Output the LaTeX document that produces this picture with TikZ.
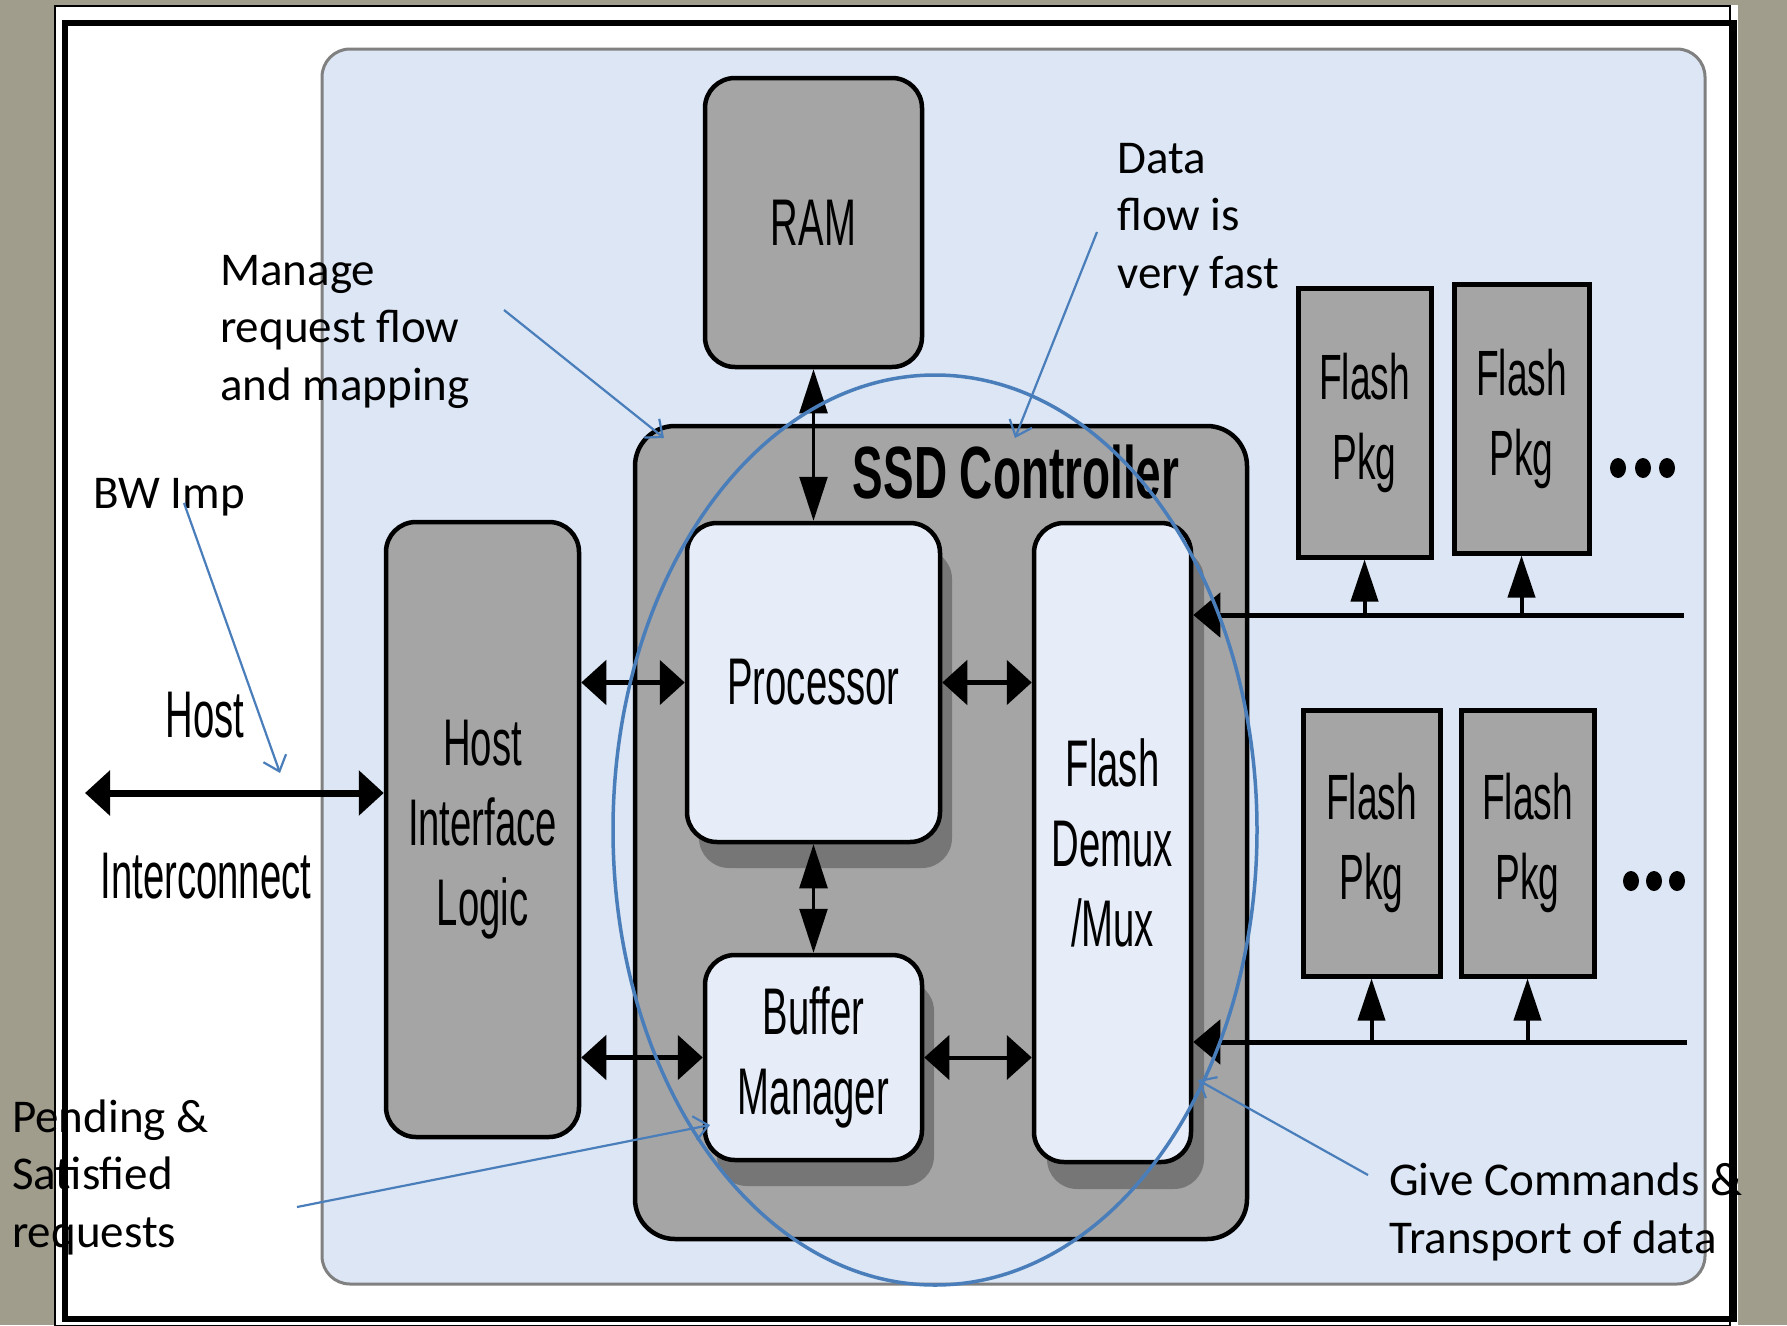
\documentclass[tikz,border=0pt]{standalone}
\usepackage{fontspec}
\setmainfont{Carlito}
\newfontfamily\narrowfont[FakeStretch=0.58]{Liberation Sans}
\newfontfamily\ctrlfont[FakeStretch=0.62]{Liberation Sans}
\usetikzlibrary{arrows.meta}
\definecolor{slidebg}{RGB}{160,157,141}
\definecolor{panelblue}{RGB}{220,230,244}
\definecolor{boxgray}{RGB}{165,165,165}
\definecolor{lightfill}{RGB}{231,237,248}
\definecolor{shadowgray}{RGB}{118,118,118}
\definecolor{annot}{RGB}{74,126,187}
\tikzset{
  graybox/.style={draw=black, line width=4.5pt, fill=boxgray, rounded corners=30pt, inner sep=0pt,
    font=\narrowfont\fontsize{66}{80}\selectfont, align=center},
  litebox/.style={graybox, fill=lightfill},
  pkgbox/.style={draw=black, line width=5pt, fill=boxgray, inner sep=0pt,
    font=\narrowfont\fontsize{64}{80}\selectfont, align=center},
  dbl/.style={line width=5pt, {Triangle[length=25pt,width=44pt]}-{Triangle[length=25pt,width=44pt]}},
  thindbl/.style={line width=2.5pt, {Triangle[length=44pt,width=28pt]}-{Triangle[length=44pt,width=28pt]}},
  busline/.style={line width=5pt, -{Triangle[length=27pt,width=44pt]}},
  uparrow/.style={line width=4pt, -{Triangle[length=42pt,width=27pt]}},
  pointer/.style={draw=annot, line width=2.2pt, -{Straight Barb[length=14pt,width=24pt]}},
  note/.style={font=\fontsize{47}{57.5}\selectfont, align=left, inner sep=0pt, anchor=base west},
  plainlabel/.style={font=\narrowfont\fontsize{66}{80}\selectfont, inner sep=0pt, anchor=base},
}
\begin{document}
\begin{tikzpicture}[x=1pt,y=-1pt]
\useasboundingbox (0,0) rectangle (1787,1325);
% slide background and frames
\fill[slidebg] (0,0) rectangle (1787,1325);
\fill[white] (55,5) rectangle (1738,1325);
\draw[line width=2pt] (55,6) rectangle (1730,1326);
\draw[line width=6pt] (65,23) rectangle (1734,1319);
% blue panel
\draw[fill=panelblue, draw=gray, line width=3pt, rounded corners=28pt] (322,49) rectangle (1705,1284);
% SSD controller
\node[graybox, rounded corners=40pt, minimum width=612pt, minimum height=813pt] (ssd) at (941,832.5) {};
\node[font=\ctrlfont\bfseries\fontsize{74}{80}\selectfont, inner sep=0pt, anchor=base] (ssdtitle) at (1016,498) {SSD Controller};
% shadows
\fill[shadowgray, rounded corners=30pt] (699,549) rectangle (952,868);
\fill[shadowgray, rounded corners=30pt] (717,981) rectangle (934,1186);
\fill[shadowgray, rounded corners=30pt] (1047,549) rectangle (1204,1189);
% boxes
\node[graybox, minimum width=217pt, minimum height=289pt] (ram) at (813.5,222.5) {RAM};
\node[graybox, minimum width=193pt, minimum height=615pt] (host) at (482.5,829.5) {Host\\Interface\\Logic};
\node[litebox, minimum width=253pt, minimum height=319pt] (proc) at (813.5,682.5) {Processor};
\node[litebox, minimum width=217pt, minimum height=205pt] (buf) at (813.5,1057.5) {Buffer\\Manager};
\node[litebox, minimum width=157pt, minimum height=639pt] (demux) at (1112.5,842.5) {Flash\\Demux\\/Mux};
\node[pkgbox, minimum width=133pt, minimum height=269pt] (pkg1) at (1364.5,422.5) {Flash\\Pkg};
\node[pkgbox, minimum width=135pt, minimum height=269pt] (pkg2) at (1521.5,418.5) {Flash\\Pkg};
\node[pkgbox, minimum width=137pt, minimum height=266pt] (pkg3) at (1371.5,843) {Flash\\Pkg};
\node[pkgbox, minimum width=133pt, minimum height=266pt] (pkg4) at (1527.5,843) {Flash\\Pkg};
% dots
\foreach \x in {1618,1643,1667} \fill (\x,468) ellipse [x radius=8, y radius=10];
\foreach \x in {1631,1654,1677} \fill (\x,881) ellipse [x radius=8, y radius=10];
% host interconnect
\coordinate (hostend) at (85,793);
\draw[dbl, line width=7pt] (hostend) -- (host.west |- hostend);
\node[plainlabel] (hostlbl) at (205,737) {Host};
\node[plainlabel] (iclbl) at (206,898) {Interconnect};
% internal connectors
\draw[dbl] (host.east |- proc.west) -- (proc.west);
\draw[dbl] (host.east |- buf.west) -- (buf.west);
\draw[dbl] (proc.east) -- (proc.east -| demux.west);
\draw[dbl, line width=4pt] (buf.east) -- (buf.east -| demux.west);
\draw[thindbl] (ram.south) -- (proc.north);
\draw[thindbl] (proc.south) -- (buf.north);
% flash buses
\coordinate (bus1) at (1684,615);
\coordinate (bus2) at (1687,1042);
\draw[busline] (bus1) -- (demux.east |- bus1);
\draw[busline] (bus2) -- (demux.east |- bus2);
\draw[uparrow] (pkg1.south |- bus1) -- (pkg1.south);
\draw[uparrow] (pkg2.south |- bus1) -- (pkg2.south);
\draw[uparrow] (pkg3.south |- bus2) -- (pkg3.south);
\draw[uparrow] (pkg4.south |- bus2) -- (pkg4.south);
% blue ellipse
\draw[annot, line width=3.5pt] (935,830) ellipse [x radius=322, y radius=455];
% notes (anchored at the baseline of the last line)
\node[note] (n1) at (220,400) {Manage\\request flow\\and mapping};
\node[note] (n2) at (93,508) {BW Imp};
\node[note] (n3) at (1117,288) {Data\\flow is\\very fast};
\node[note] (n4) at (12,1247) {Pending \&\\Satisfied\\requests};
\node[note] (n5) at (1389,1253) {Give Commands \&\\Transport of data};
% pointers
\coordinate (p1s) at (504,310); \coordinate (p1e) at (664,438);
\coordinate (p2s) at (1097,232); \coordinate (p2e) at (1015,438);
\coordinate (p3s) at (184,503); \coordinate (p3e) at (280,773);
\coordinate (p4s) at (297,1207); \coordinate (p4e) at (710,1125);
\coordinate (p5s) at (1368,1175); \coordinate (p5e) at (1198,1080);
\draw[pointer] (p1s) -- (p1e);
\draw[pointer] (p2s) -- (p2e);
\draw[pointer] (p3s) -- (p3e);
\draw[pointer] (p4s) -- (p4e);
\draw[pointer] (p5s) -- (p5e);
\end{tikzpicture}
\end{document}
